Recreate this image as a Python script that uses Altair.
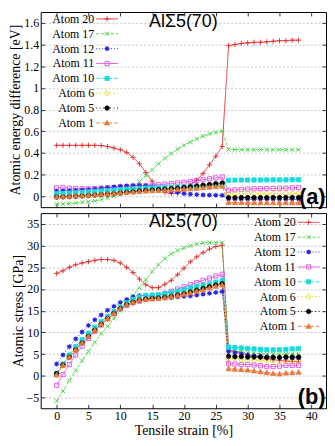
import altair as alt
import pandas as pd

# ---------------- data ----------------
strain = list(range(39))
atoms = ["Atom 20", "Atom 17", "Atom 12", "Atom 11", "Atom 10", "Atom 6", "Atom 5", "Atom 1"]

energy = {
    "Atom 20": [0.47, 0.47, 0.47, 0.47, 0.47, 0.47, 0.47, 0.468, 0.46, 0.445, 0.43, 0.405, 0.36, 0.30, 0.22,
                0.14, 0.07, 0.035, 0.025, 0.03, 0.06, 0.10, 0.15, 0.21, 0.29, 0.37, 0.46,
                1.39, 1.40, 1.41, 1.415, 1.42, 1.42, 1.425, 1.43, 1.435, 1.435, 1.44, 1.44],
    "Atom 17": [-0.073, -0.07, -0.066, -0.062, -0.056, -0.05, -0.042, -0.03, -0.015, 0.003, 0.025, 0.052, 0.088,
                0.135, 0.19, 0.245, 0.30, 0.35, 0.395, 0.435, 0.47, 0.50, 0.53, 0.555, 0.575, 0.59, 0.60,
                0.432, 0.43, 0.43, 0.43, 0.43, 0.43, 0.43, 0.43, 0.43, 0.43, 0.43, 0.43],
    "Atom 12": [0.048, 0.05, 0.052, 0.055, 0.058, 0.062, 0.067, 0.073, 0.08, 0.087, 0.093, 0.097, 0.10, 0.10,
                0.097, 0.09, 0.075, 0.058, 0.045, 0.035, 0.025, 0.02, 0.016, 0.013, 0.011, 0.01, 0.009,
                -0.025, -0.026, -0.026, -0.027, -0.027, -0.027, -0.027, -0.027, -0.028, -0.028, -0.028, -0.028],
    "Atom 11": [0.08, 0.078, 0.075, 0.072, 0.07, 0.07, 0.072, 0.075, 0.078, 0.08, 0.085, 0.09, 0.093, 0.097,
                0.10, 0.103, 0.107, 0.112, 0.118, 0.124, 0.13, 0.138, 0.145, 0.153, 0.162, 0.17, 0.178,
                0.055, 0.06, 0.064, 0.067, 0.069, 0.07, 0.072, 0.073, 0.075, 0.076, 0.078, 0.079],
    "Atom 10": [0.025, 0.027, 0.03, 0.033, 0.037, 0.041, 0.045, 0.05, 0.054, 0.058, 0.062, 0.066, 0.07, 0.073,
                0.076, 0.078, 0.08, 0.082, 0.084, 0.086, 0.088, 0.09, 0.093, 0.096, 0.099, 0.102, 0.105,
                0.148, 0.149, 0.15, 0.15, 0.151, 0.151, 0.151, 0.152, 0.152, 0.152, 0.153, 0.153],
    "Atom 6": [0.002, 0.004, 0.006, 0.009, 0.012, 0.016, 0.02, 0.024, 0.028, 0.032, 0.037, 0.041, 0.045, 0.049,
               0.052, 0.055, 0.058, 0.061, 0.064, 0.068, 0.072, 0.077, 0.082, 0.087, 0.093, 0.099, 0.105,
               0.022, 0.023, 0.023, 0.024, 0.024, 0.024, 0.025, 0.025, 0.025, 0.025, 0.026, 0.026],
    "Atom 5": [-0.006, -0.005, -0.003, 0.0, 0.003, 0.007, 0.011, 0.015, 0.02, 0.025, 0.031, 0.037, 0.043, 0.049,
               0.054, 0.058, 0.062, 0.066, 0.07, 0.075, 0.081, 0.088, 0.095, 0.102, 0.11, 0.117, 0.123,
               -0.012, -0.012, -0.011, -0.011, -0.011, -0.011, -0.011, -0.01, -0.01, -0.01, -0.01, -0.01],
    "Atom 1": [-0.004, -0.002, 0.0, 0.003, 0.006, 0.01, 0.014, 0.018, 0.022, 0.027, 0.032, 0.036, 0.04, 0.044,
               0.048, 0.051, 0.054, 0.057, 0.06, 0.063, 0.066, 0.07, 0.074, 0.078, 0.083, 0.088, 0.093,
               -0.058, -0.058, -0.059, -0.059, -0.059, -0.06, -0.06, -0.06, -0.06, -0.06, -0.06, -0.06],
}

stress = {
    "Atom 20": [23.6, 24.2, 25.0, 25.6, 26.0, 26.3, 26.6, 26.8, 26.8, 26.6, 26.0, 25.0, 23.8, 22.3, 21.0,
                20.3, 20.3, 21.1, 22.0, 23.3, 24.8, 26.3, 27.4, 28.4, 29.2, 29.8, 30.1,
                6.0, 5.6, 5.2, 4.8, 4.5, 4.2, 3.9, 3.7, 3.5, 3.4, 3.3, 3.2],
    "Atom 17": [-5.8, -3.5, -1.1, 1.2, 3.5, 5.6, 7.7, 9.7, 11.4, 13.2, 15.0, 16.8, 18.5, 20.3, 22.1,
                24.0, 25.6, 27.0, 28.1, 28.9, 29.5, 30.0, 30.4, 30.6, 30.7, 30.7, 30.7,
                5.9, 5.7, 5.5, 5.3, 5.2, 5.1, 5.0, 5.0, 5.0, 5.0, 5.1, 5.1],
    "Atom 12": [2.7, 4.8, 6.7, 8.5, 10.1, 11.6, 12.9, 14.0, 15.1, 16.0, 16.9, 17.6, 18.2, 18.5, 18.5,
                18.3, 18.0, 17.9, 18.0, 18.2, 18.3, 18.4, 18.6, 18.8, 19.0, 19.2, 19.4,
                5.6, 5.3, 5.0, 4.8, 4.6, 4.5, 4.4, 4.3, 4.2, 4.2, 4.1, 4.1],
    "Atom 11": [-2.2, 0.3, 2.6, 4.8, 6.8, 8.6, 10.2, 11.7, 13.1, 14.3, 15.4, 16.2, 16.8, 17.2, 17.6,
                18.0, 18.5, 19.0, 19.5, 20.0, 20.5, 21.0, 21.5, 22.0, 22.5, 23.0, 23.4,
                2.8, 2.7, 2.6, 2.6, 2.5, 2.3, 2.1, 2.1, 2.2, 2.4, 2.4, 2.4],
    "Atom 10": [0.5, 2.7, 4.8, 6.7, 8.3, 9.8, 11.2, 12.5, 13.7, 14.8, 15.8, 16.8, 17.6, 18.2, 18.5,
                18.6, 18.7, 18.9, 19.2, 19.5, 19.9, 20.3, 20.6, 20.9, 21.2, 21.6, 22.0,
                6.6, 6.5, 6.4, 6.3, 6.2, 6.1, 6.0, 6.0, 6.0, 6.1, 6.2, 6.3],
    "Atom 6": [0.1, 2.3, 4.2, 5.9, 7.5, 9.0, 10.4, 11.8, 13.1, 14.3, 15.4, 16.3, 16.9, 17.4, 17.7,
               17.9, 18.1, 18.3, 18.6, 18.9, 19.2, 19.6, 20.0, 20.4, 20.8, 21.2, 21.5,
               4.0, 3.9, 3.8, 3.7, 3.6, 3.6, 3.5, 3.5, 3.5, 3.6, 3.6, 3.6],
    "Atom 5": [0.5, 2.5, 4.3, 6.0, 7.6, 9.1, 10.5, 11.9, 13.2, 14.4, 15.5, 16.4, 17.0, 17.4, 17.7,
               17.8, 17.9, 18.1, 18.3, 18.6, 18.9, 19.3, 19.7, 20.1, 20.5, 20.9, 21.2,
               4.5, 4.4, 4.4, 4.3, 4.3, 4.3, 4.2, 4.2, 4.2, 4.3, 4.3, 4.3],
    "Atom 1": [0.2, 2.4, 4.3, 6.0, 7.6, 9.1, 10.5, 11.9, 13.2, 14.4, 15.5, 16.4, 17.0, 17.4, 17.6,
               17.7, 17.8, 18.0, 18.2, 18.5, 18.8, 19.1, 19.5, 19.8, 20.2, 20.6, 20.9,
               1.6, 1.5, 1.4, 1.3, 1.1, 0.9, 0.7, 0.5, 0.4, 0.6, 0.7, 0.8],
}

x_ticks = [0, 5, 10, 15, 20, 25, 30, 35, 40]
e_ticks = [0, 0.2, 0.4, 0.6, 0.8, 1.0, 1.2, 1.4, 1.6]
s_ticks = [-5, 0, 5, 10, 15, 20, 25, 30, 35]

# ---------------- styles ----------------
colors = ["#e02828", "#3cd23c", "#2626e0", "#e050e0", "#14dcdc", "#e2d820", "#000000", "#e8783c"]
dashes = [[1, 0], [3, 2], [1, 2], [1, 0], [4, 2], [1.5, 2], [1, 2.5], [4, 2]]
kinds = ["plus", "cross", "star", "square", "square", "circle", "circle", "triangle"]
filled = [False, False, True, False, True, False, True, True]


def f(v):
    return f"{v:.3f}"


def marker_path(kind, h=1.0):
    if kind == "plus":
        return f"M{f(-h)},0H{f(h)}M0,{f(-h)}V{f(h)}"
    if kind == "cross":
        k = h * 0.8
        return f"M{f(-k)},{f(-k)}L{f(k)},{f(k)}M{f(k)},{f(-k)}L{f(-k)},{f(k)}"
    if kind == "star":
        k, s = h * 0.7, h * 0.5
        return (f"M{f(-s)},{f(-s)}H{f(s)}V{f(s)}H{f(-s)}Z"
                f"M{f(-h)},0H{f(h)}M0,{f(-h)}V{f(h)}"
                f"M{f(-k)},{f(-k)}L{f(k)},{f(k)}M{f(k)},{f(-k)}L{f(-k)},{f(k)}")
    if kind == "square":
        k = h * 0.8
        return f"M{f(-k)},{f(-k)}H{f(k)}V{f(k)}H{f(-k)}Z"
    if kind == "circle":
        k = h * 0.85
        return f"M{f(-k)},0A{f(k)},{f(k)},0,1,0,{f(k)},0A{f(k)},{f(k)},0,1,0,{f(-k)},0Z"
    return f"M0,{f(-h)}L{f(h)},{f(h * 0.75)}H{f(-h)}Z"


data_shapes = [marker_path(k) for k in kinds]

rows = []
for a in atoms:
    for s, e, t in zip(strain, energy[a], stress[a]):
        rows.append({"strain": s, "atom": a, "energy": e, "stress": t})
df = pd.DataFrame(rows)

open_atoms = [a for a, fl in zip(atoms, filled) if not fl]
fill_atoms = [a for a, fl in zip(atoms, filled) if fl]

# ---------------- layout ----------------
W, H = 288, 197
X_DOM = [-2.5, 42.3]
color_scale = alt.Scale(domain=atoms, range=colors)
shape_scale = alt.Scale(domain=atoms, range=data_shapes)
dash_scale = alt.Scale(domain=atoms, range=dashes)
x_scale = alt.Scale(domain=X_DOM, nice=False, zero=False)

TICK_IN = {"expr": "-4"}
base_axis = dict(domain=False, ticks=True, tickSize=TICK_IN, tickColor="black", tickWidth=0.8,
                 labelFont="Liberation Serif", labelFontSize=12, labelColor="black",
                 titleFont="Liberation Serif", titleFontSize=14, titleFontWeight="normal",
                 titleColor="black")


def legend_frame(ydom, label_right_px, first_row_px, row_px=15.0):
    """Legend key rows placed in plot pixels, converted to data units via the panel domains."""
    to_x = lambda px: X_DOM[0] + px * (X_DOM[1] - X_DOM[0]) / W
    to_y = lambda py: ydom[1] - py * (ydom[1] - ydom[0]) / H
    out = []
    for i, a in enumerate(atoms):
        out.append({"atom": a,
                    "lx": to_x(label_right_px),
                    "x1": to_x(label_right_px + 2), "x2": to_x(label_right_px + 24),
                    "mx": to_x(label_right_px + 13),
                    "ly": to_y(first_row_px + i * row_px)})
    return pd.DataFrame(out)


def panel(field, ydom, yticks, yfmt, ytitle, tag, tag_y, leg_right, leg_top, title_off, bottom_labels):
    y_scale = alt.Scale(domain=ydom, nice=False, zero=False)

    x_main = alt.Axis(orient="bottom", values=x_ticks, labels=bottom_labels, grid=False,
                      labelPadding=6, title="Tensile strain [%]" if bottom_labels else None,
                      titlePadding=2, **base_axis)
    y_main = alt.Axis(orient="left", values=yticks, format=yfmt, grid=True, gridDash=[2, 2],
                      gridColor="#a0a0a0", gridWidth=0.6, labelPadding=6, title=ytitle,
                      titlePadding=1, **base_axis)
    mirror = dict(base_axis)
    mirror.update(titleFont="Liberation Sans", titleFontSize=22, titleFontWeight="bold")
    x_top = alt.Axis(orient="top", values=x_ticks, labels=False, grid=False, title=None, **mirror)
    y_right = alt.Axis(orient="right", values=yticks, labels=False, grid=False, title=tag,
                       titleAngle=0, titleX=-1, titleY=tag_y, titleAlign="right",
                       titleBaseline="middle", **mirror)

    col = alt.Color("atom:N", scale=color_scale, legend=None)
    stk = alt.Stroke("atom:N", scale=color_scale, legend=None)
    shp = alt.Shape("atom:N", scale=shape_scale, legend=None)
    dsh = alt.StrokeDash("atom:N", scale=dash_scale, legend=None)
    only_open = alt.FieldOneOfPredicate(field="atom", oneOf=open_atoms)
    only_fill = alt.FieldOneOfPredicate(field="atom", oneOf=fill_atoms)

    base = alt.Chart(df)
    lines = base.mark_line(strokeWidth=0.9).encode(
        x=alt.X("strain:Q", scale=x_scale, axis=x_main),
        y=alt.Y(f"{field}:Q", scale=y_scale, axis=y_main),
        color=col, strokeDash=dsh,
    )
    pts_open = base.mark_point(filled=False, size=28, strokeWidth=0.9, opacity=1).encode(
        x=alt.X("strain:Q", scale=x_scale, axis=x_top),
        y=alt.Y(f"{field}:Q", scale=y_scale, axis=y_right),
        color=col, shape=shp,
    ).transform_filter(only_open)
    pts_fill = base.mark_point(filled=True, size=28, strokeWidth=0.8, opacity=1).encode(
        x=alt.X("strain:Q", scale=x_scale, axis=None),
        y=alt.Y(f"{field}:Q", scale=y_scale, axis=None),
        color=col, stroke=stk, shape=shp,
    ).transform_filter(only_fill)

    # key (legend) drawn with the same scales
    key = alt.Chart(legend_frame(ydom, leg_right, leg_top))
    kx = lambda fld: alt.X(f"{fld}:Q", scale=x_scale, axis=None)
    ky = alt.Y("ly:Q", scale=y_scale, axis=None)
    key_line = key.mark_rule(strokeWidth=0.9).encode(
        x=kx("x1"), x2="x2:Q", y=ky, color=col, strokeDash=dsh)
    key_open = key.mark_point(filled=False, size=28, strokeWidth=0.9, opacity=1).encode(
        x=kx("mx"), y=ky, color=col, shape=shp).transform_filter(only_open)
    key_fill = key.mark_point(filled=True, size=28, strokeWidth=0.8, opacity=1).encode(
        x=kx("mx"), y=ky, color=col, stroke=stk, shape=shp).transform_filter(only_fill)
    key_text = key.mark_text(align="right", baseline="middle", font="Liberation Serif",
                             fontSize=12, color="black").encode(
        x=kx("lx"), y=ky, text="atom:N")

    return alt.layer(lines, pts_open, pts_fill, key_line, key_open, key_fill, key_text).properties(
        width=W, height=H,
        title=alt.TitleParams("AlΣ5(70)", font="Liberation Sans", fontSize=18, fontWeight="normal",
                              color="black", anchor="middle", frame="group", offset=title_off,
                              baseline="middle"),
    )


top = panel("energy", [-0.1, 1.7], e_ticks, ".1~f", "Atomic energy difference [eV]", "(a)", 186,
            54, 7, -29, False)
bottom = panel("stress", [-7.5, 37.5], s_ticks, "d", "Atomic stress [GPa]", "(b)", 185,
               257.5, 9.3, -27, True)

chart = alt.vconcat(top, bottom, spacing=3).properties(
    padding={"left": 0, "top": 1, "right": 0, "bottom": 0},
    background="white",
).configure_view(stroke="black", strokeWidth=1)

chart.save("out.html", embed_options={"renderer": "svg", "actions": False})
